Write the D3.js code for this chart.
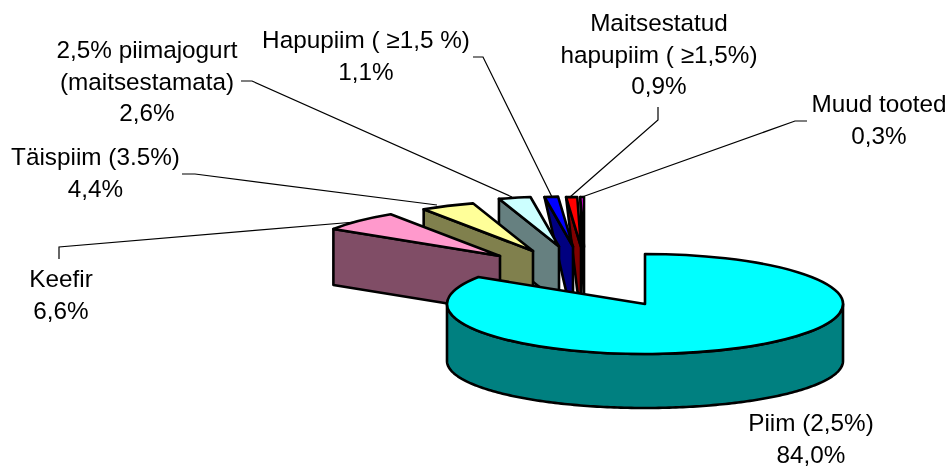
<!DOCTYPE html>
<html>
<head>
<meta charset="utf-8">
<script src="https://cdn.jsdelivr.net/npm/d3@7"></script>
<style>
  body { margin: 0; background: #fff; }
  svg { filter: blur(0.35px); }
  text { font-family: "Liberation Sans", Arial, sans-serif; font-size: 24.3px; fill: #000; text-anchor: middle; }
</style>
</head>
<body>
<div id="chart"></div>
<script>
var categories = ["Piim (2,5%)", "Keefir", "Täispiim (3.5%)", "2,5% piimajogurt (maitsestamata)", "Hapupiim ( ≥1,5 %)", "Maitsestatud hapupiim ( ≥1,5%)", "Muud tooted"];
var values = [84.0, 6.6, 4.4, 2.6, 1.1, 0.9, 0.3];
var valueLabels = ["84,0%", "6,6%", "4,4%", "2,6%", "1,1%", "0,9%", "0,3%"];
var topColors = ["#00ffff", "#ff99cc", "#ffff99", "#ccffff", "#0000ff", "#ff0000", "#ff00ff"];
var sideColors = ["#008080", "#804d66", "#80804d", "#668080", "#000080", "#800000", "#800080"];

// how the label text breaks, per category
var labelLines = [["Piim (2,5%)"], ["Keefir"], ["Täispiim (3.5%)"], ["2,5% piimajogurt", "(maitsestamata)"], ["Hapupiim ( ≥1,5 %)"], ["Maitsestatud", "hapupiim ( ≥1,5%)"], ["Muud tooted"]];

var width = 950, height = 468;
var cx = 645, cy = 304, rx = 198, ry = 50;
var depth = 56;

// explosion of each slice, in px
var explodeX = [0, -145, -112, -86, -72, -64, -61];
var explodeY = [0, -48, -53, -57.5, -57.5, -57, -57];
// thin slices lean their inner wall towards the tip
var lean = [0, 0, 0, 0, 0.75, 0.75, 1];

// label anchor: centre x and first baseline
var labelX = [811, 61, 95.5, 147, 366, 659, 879];
var labelY = [431, 287, 165, 58, 48, 31, 112];
var lineGap = 31.7;

// leader lines, label end to slice end
var leaders = [
  null,
  [[59, 259], [59, 247], [355, 222]],
  [[182, 174], [195, 174], [437, 205]],
  [[241, 81], [252, 81], [512, 197]],
  [[473, 57], [483, 57], [552, 197]],
  [[658, 107], [658, 120], [570, 197]],
  [[807, 121], [795, 121], [582, 197]]
];

var pie = d3.pie().sort(null).value(d => d);
var slices = pie(values).map((d, i) => ({arc: d, i: i}));

var xPos = d3.scaleLinear().domain([-1, 1]).range([-rx, rx]);
var yPos = d3.scaleLinear().domain([-1, 1]).range([-ry, ry]);

// point on the top ellipse, angle clockwise from 12 o'clock
function rim(a, i) {
  return [cx + explodeX[i] + xPos(Math.sin(a)), cy + explodeY[i] + yPos(-Math.cos(a))];
}

var arcGen = d3.arc().innerRadius(0).outerRadius(rx);

var svg = d3.select("#chart").append("svg").attr("width", width).attr("height", height);
var line = d3.line();

// back slices first, Piim last
var order = slices.slice(1).reverse().concat(slices[0]);

var groups = svg.selectAll("g.slice").data(order).enter().append("g").attr("class", "slice");

groups.each(function(d) {
  var g = d3.select(this), i = d.i;
  var tip = [cx + explodeX[i], cy + explodeY[i]];
  var wall;
  if (i === 0) {
    // outer wall of the big slice, front half only
    var angles = d3.range(0, 181).map(k => Math.PI / 2 + k * Math.PI / 180);
    var upper = angles.map(a => [cx + xPos(Math.sin(a)), cy + yPos(-Math.cos(a))]);
    var lower = angles.map(a => [cx + xPos(Math.sin(a)), cy + 57 + yPos(-Math.cos(a)) * 0.94]);
    wall = upper.concat(lower.reverse());
  } else {
    var corner = rim(d.arc.startAngle, i);
    var footX = corner[0] + (tip[0] - corner[0]) * lean[i];
    wall = [corner, tip, [tip[0], tip[1] + depth], [footX, corner[1] + depth + (tip[1] - corner[1]) * lean[i]]];
  }
  g.append("path")
    .attr("d", line(wall) + "Z")
    .attr("fill", sideColors[i])
    .attr("stroke", "#000").attr("stroke-width", 2.6).attr("stroke-linejoin", "round");
  g.append("path")
    .attr("d", arcGen(d.arc))
    .attr("transform", `translate(${tip[0]},${tip[1]}) scale(1,${ry / rx})`)
    .attr("vector-effect", "non-scaling-stroke")
    .attr("fill", topColors[i])
    .attr("stroke", "#000").attr("stroke-width", 2.6).attr("stroke-linejoin", "round");
});

svg.selectAll("path.leader").data(leaders.filter(d => d)).enter().append("path")
  .attr("class", "leader")
  .attr("d", d => line(d))
  .attr("fill", "none").attr("stroke", "#000").attr("stroke-width", 1.2);

var labels = svg.selectAll("text.label").data(categories).enter().append("text")
  .attr("class", "label")
  .attr("x", (d, i) => labelX[i])
  .attr("y", (d, i) => labelY[i]);

labels.each(function(d, i) {
  var rows = labelLines[i].concat(valueLabels[i]);
  d3.select(this).selectAll("tspan").data(rows).enter().append("tspan")
    .attr("x", labelX[i])
    .attr("y", (r, k) => labelY[i] + k * lineGap)
    .text(r => r);
});
</script>
</body>
</html>
